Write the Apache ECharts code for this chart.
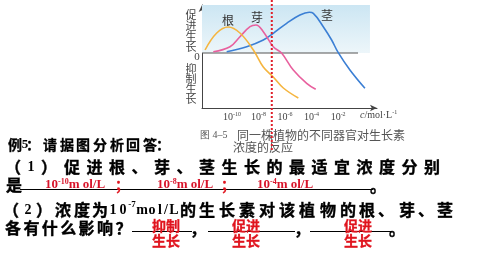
<!DOCTYPE html>
<html><head><meta charset="utf-8">
<script src="https://cdn.jsdelivr.net/npm/echarts@6/dist/echarts.min.js"></script>
<style>html,body{margin:0;padding:0;background:#fff}#c{width:480px;height:270px}</style>
</head><body><div id="c"></div>
<script>
// ---- data (x = log10 of concentration, y = growth response, arbitrary units) ----
const logTicks = [-10, -8, -6, -4, -2];
const rootLogC = [-12.03, -11.15, -10.28, -9.40, -8.39, -7.64, -6.89, -6.13, -5.0];
const rootResp = [3, 20, 26, 20, 3, -14, -24, -35, -45];
const budLogC = [-11.41, -10.15, -9.40, -8.64, -8.19, -7.64, -6.89, -6.25, -5.38, -4.37, -3.69];
const budResp = [1.3, 6.3, 16.3, 26.3, 28, 21.3, 6.3, -0.3, -17, -30.3, -36.3];
const stemLogC = [-10.40, -8.89, -7.64, -6.89, -5.88, -4.88, -4.17, -3.87, -3.12, -2.49, -1.99, -1.11, 0.02];
const stemResp = [1.3, 6.3, 13, 19.7, 29.7, 38, 40.7, 39.7, 26.3, 13, 0.3, -17, -35.3];
const markedLogC = -7;
const xMin = -12.26, xMax = 0.93, yMin = -55, yMax = 48;
const zeroLineEnd = -0.5, shadeEnd = 0.4;

const zip = (a, b) => a.map((v, i) => [v, b[i]]);
const chart = echarts.init(document.getElementById('c'), null, {renderer: 'canvas'});

const CJK = '"Noto Sans CJK SC", sans-serif';
const SERIF = '"Liberation Serif", "DejaVu Serif", serif';
const lineSeries = (name, d, color) => ({
  name, type: 'line', data: d, smooth: 0.4, showSymbol: false, silent: true, z: 3,
  lineStyle: {color, width: 1.6}, itemStyle: {color}
});

chart.setOption({
  animation: false,
  grid: {left: 202, top: 5, width: 175, height: 103},
  xAxis: {
    type: 'value', min: xMin, max: xMax,
    axisLine: {onZero: false, symbol: ['none', 'arrow'], symbolSize: [5, 7], lineStyle: {color: '#444', width: 1}},
    axisTick: {show: false}, splitLine: {show: false},
    axisLabel: {
      customValues: logTicks, margin: 3,
      formatter: v => '{b|10}{s|' + String(v) + '}',
      rich: {
        b: {fontSize: 10, fontFamily: SERIF, color: '#444', lineHeight: 12},
        s: {fontSize: 6, fontFamily: SERIF, color: '#444', verticalAlign: 'top', lineHeight: 12}
      }
    }
  },
  yAxis: {
    type: 'value', min: yMin, max: yMax,
    axisLine: {show: true, onZero: false, symbol: ['none', 'arrow'], symbolSize: [5, 7], lineStyle: {color: '#444', width: 1}},
    axisTick: {show: false}, splitLine: {show: false}, axisLabel: {show: false}
  },
  series: [
    {
      name: 'zero', type: 'line', silent: true, showSymbol: false, z: 2,
      data: [[xMin, 0], [zeroLineEnd, 0]],
      lineStyle: {color: '#555', width: 1},
      markArea: {silent: true, data: [[
        {coord: [xMin, 0], itemStyle: {color: new echarts.graphic.LinearGradient(0, 0, 0, 1, [
          {offset: 0, color: '#cce6f3'}, {offset: 1, color: '#edf6fa'}])}},
        {coord: [shadeEnd, yMax]}]]}
    },
    lineSeries('茎', zip(stemLogC, stemResp), '#3b7fd4'),
    lineSeries('芽', zip(budLogC, budResp), '#e8609e'),
    lineSeries('根', zip(rootLogC, rootResp), '#f5b53f')
  ]
});

// ---- text helpers ----
function txt(s, x, y, st) {
  return {type: 'text', silent: true, x, y, z: 10,
    style: Object.assign({text: s, align: 'center', verticalAlign: 'middle'}, st)};
}
function run(str, xs, y, st) { return [...str].map((ch, i) => txt(ch, xs[i], y, st)); }
function col(str, x, ys, st) { return [...str].map((ch, i) => txt(ch, x, ys[i], st)); }
function stepRun(str, x0, step, y, st) { return [...str].map((ch, i) => txt(ch, x0 + i * step, y, st)); }
function hline(x1, x2, y) {
  return {type: 'line', silent: true, shape: {x1, y1: y, x2, y2: y}, style: {stroke: '#000', lineWidth: 1}};
}

const axisTxt = {fontSize: 11, fontFamily: CJK, fill: '#444'};
const boldB = {fontSize: 16, fontWeight: 'bold', fontFamily: CJK, fill: '#000', stroke: '#000', lineWidth: 0.4};
const boldS = {fontSize: 14, fontWeight: 'bold', fontFamily: CJK, fill: '#000', stroke: '#000', lineWidth: 0.3};
const latinB = {fontSize: 14, fontWeight: 'bold', fontFamily: SERIF, fill: '#000'};
const redB = {fontSize: 14, fontWeight: 'bold', fontFamily: CJK, fill: '#e0141e', stroke: '#e0141e', lineWidth: 0.3};
const redRich = {
  a: {fontSize: 13, fontWeight: 'bold', fontFamily: SERIF, fill: '#d8142a', lineHeight: 14},
  s: {fontSize: 8, fontWeight: 'bold', fontFamily: SERIF, fill: '#d8142a', verticalAlign: 'top', lineHeight: 14}
};
function redConc(exp, x, y) {
  return {type: 'text', silent: true, x, y, z: 10,
    style: {text: '{a|10}{s|' + exp + '}{a|m ol/L}', rich: redRich, align: 'left', verticalAlign: 'middle'}};
}

const px = chart.convertToPixel({xAxisIndex: 0}, markedLogC);

const g = [];
// axis side labels
g.push(...col('促进生长', 191, [15, 26, 37, 47], axisTxt));
g.push(txt('0', 197, 57, {fontSize: 11, fontFamily: SERIF, fill: '#444'}));
g.push(...col('抑制生长', 191, [69, 79, 89, 99], axisTxt));
// curve names
g.push(txt('根', 228, 20, {fontSize: 12, fontFamily: CJK, fill: '#333'}));
g.push(txt('芽', 257, 17, {fontSize: 12, fontFamily: CJK, fill: '#333'}));
g.push(txt('茎', 327, 15, {fontSize: 12, fontFamily: CJK, fill: '#333'}));
// x unit
g.push({type: 'text', silent: true, x: 360, y: 115, style: {
  text: '{i|c}{b|/mol·L}{s|-1}', align: 'left', verticalAlign: 'middle',
  rich: {i: {fontSize: 10, fontStyle: 'italic', fontFamily: SERIF, fill: '#444', lineHeight: 12},
         b: {fontSize: 10, fontFamily: SERIF, fill: '#444', lineHeight: 12},
         s: {fontSize: 6, fontFamily: SERIF, fill: '#444', verticalAlign: 'top', lineHeight: 12}}}});
// caption
g.push({type: 'text', silent: true, x: 200, y: 135, style: {text: '图 4–5', align: 'left', verticalAlign: 'middle', fontSize: 10, fontFamily: SERIF, fill: '#555'}});
g.push({type: 'text', silent: true, x: 237, y: 135, style: {text: '同一株植物的不同器官对生长素', align: 'left', verticalAlign: 'middle', fontSize: 12, fontFamily: CJK, fill: '#555'}});
g.push({type: 'text', silent: true, x: 233, y: 147, style: {text: '浓度的反应', align: 'left', verticalAlign: 'middle', fontSize: 12, fontFamily: CJK, fill: '#555'}});
// dotted red line at the marked concentration
g.push({type: 'line', silent: true, z: 20, shape: {x1: px, y1: 0, x2: px, y2: 150},
  style: {stroke: '#e0202a', lineWidth: 2, lineDash: [2, 2]}});

// question text
const ex = run('例5：请据图分析回答：', [15, 25, 33, 50, 67, 83, 100, 117, 133, 150, 163], 145, boldS);
ex[1].style = Object.assign({}, ex[1].style, {fontFamily: SERIF, fontSize: 13, lineWidth: 0});
g.push(...ex);
g.push(txt('（', 13, 167, boldB), txt('1', 31, 167, latinB), txt('）', 49, 167, boldB));
g.push(...stepRun('促进根、芽、茎生长的最适宜浓度分别', 72, 22.5, 167, boldB));
g.push(txt('是', 14, 185, boldB));
g.push(hline(20, 373, 189.5));
g.push(redConc('-10', 45, 185), txt('；', 122, 185, redB), redConc('-8', 157, 185), txt('；', 228, 185, redB), redConc('-4', 257, 185));
g.push(txt('。', 378, 186, boldB));

g.push(txt('（', 11, 210, boldB), txt('2', 28, 210, latinB), txt('）', 44, 210, boldB));
g.push(...run('浓度为', [63, 82, 100], 210, boldB));
g.push(...run('10', [113, 123], 210, latinB));
g.push(txt('-7', 132, 205, {fontSize: 9, fontWeight: 'bold', fontFamily: SERIF, fill: '#000'}));
g.push(...run('mol/L', [142, 152, 160, 166, 174], 210, latinB));
g.push(...run('的生长素对该植物的根、芽、茎', [188, 207, 227, 247, 267, 287, 307, 328, 348, 367, 386, 407, 426, 445], 210, boldB));

g.push(...stepRun('各有什么影响？', 13, 18.4, 228, boldB));
g.push(hline(132, 192, 231.5), txt('，', 198, 229, boldB), hline(208, 295, 231.5), txt('，', 302, 229, boldB), hline(310, 392, 231.5), txt('。', 397, 229, boldB));
g.push(txt('抑制', 166, 226, redB), txt('生长', 166, 241, redB));
g.push(txt('促进', 246, 226, redB), txt('生长', 246, 241, redB));
g.push(txt('促进', 358, 226, redB), txt('生长', 358, 241, redB));

chart.setOption({graphic: g});
</script>
</body></html>
